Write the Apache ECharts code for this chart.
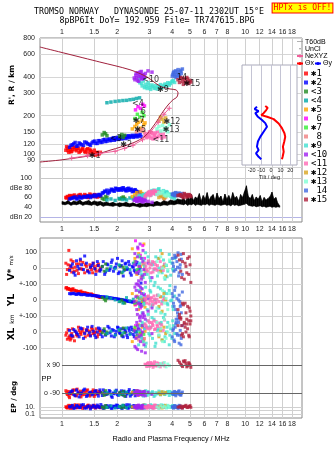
<!DOCTYPE html>
<html><head><meta charset="utf-8">
<script src="https://cdn.jsdelivr.net/npm/echarts@6/dist/echarts.min.js"></script>
<style>html,body{margin:0;padding:0;background:#fff}#c{width:335px;height:451px}</style>
</head><body><div id="c"></div>
<script>
// ---------- axis ticks ----------
const freqTicks = [1,1.5,2,3,4,5,6,7,8,10,12,14,16,18];
const freqTicksMid = [1,1.5,2,3,4,5,6,7,8,9,10,12,14,16,18];
const heightTicks = [80,90,100,120,150,200,300,400,600,800];
const dbTicks = [20,40,60,80,100];
const velTicks = [-500,-400,-300,-200,-100,0,100];
const velTickText = ['-100','0','+-100','0','+-100','0','100'];
const tiltTicks = [-20,-10,0,10,20];
const epTicks = [0.1,10];
const epLines = [0.1,1,10];

// ---------- echo groups: [freq MHz, height km, amp dB, V* m/s, YL km, XL km, PP deg, EP deg] ----------
const echo1 = [[1.05,108,60,30,75,-20,-75,12],[1.07,112,62,-10,68,-45,-100,5],[1.09,104,58,110,72,-35,-110,30],[1.11,110,63,15,65,-50,-85,4],[1.13,106,61,-25,60,-10,-95,20],[1.15,113,64,40,70,-30,-70,8],[1.18,109,60,5,58,5,-105,45],[1.21,111,62,-15,55,-25,-65,6],[1.24,104,65,25,52,10,-90,15],[1.27,108,63,-5,56,-15,-115,25],[1.30,112,61,35,48,20,-80,4],[1.33,106,66,-30,45,-5,-100,12],[1.36,109,64,10,42,15,-75,9],[1.39,103,60,-20,40,-20,-95,35],[1.42,110,67,20,35,5,-110,6],[1.45,105,63,-10,38,25,-85,18],[1.48,101,62,30,30,-10,-70,10],[1.52,99,65,-5,28,0,-100,5],[1.56,104,61,15,22,-30,-90,14],[1.60,102,64,-15,18,10,-80,8],
 [1.06,115,59,-40,78,-5,-90,7],[1.08,107,61,20,70,15,-80,18],[1.10,113,64,-5,66,-25,-120,9],[1.12,105,60,50,62,-40,-95,26],[1.14,109,62,0,68,20,-85,5],[1.17,114,65,-20,61,-55,-72,14],[1.20,107,61,25,57,-15,-108,8],[1.23,112,63,-35,53,30,-92,40],[1.26,106,66,45,50,-5,-78,6],[1.29,110,62,-8,47,5,-102,16],[1.34,104,64,20,44,-30,-88,10],[1.38,111,61,-15,41,10,-70,22],[1.43,107,65,5,36,-20,-98,7],[1.47,102,63,-30,32,15,-82,12],[1.50,108,66,10,29,-5,-112,30],[1.54,103,62,-20,25,20,-76,9],[1.58,100,64,25,20,-15,-94,15],[1.62,104,62,0,15,5,-86,6]];
const echo2 = [[1.12,118,58,10,38,-20,-80,10],[1.16,121,60,-30,42,15,-100,4],[1.20,116,57,45,35,-5,-70,25],[1.24,123,62,-5,40,-30,-115,7],[1.28,119,59,20,33,20,-90,40],[1.33,125,61,75,36,-10,-65,5],[1.38,121,63,-20,30,30,-105,15],[1.43,118,60,5,32,-25,-85,3],[1.48,126,64,30,28,5,-95,30],[1.53,122,62,-40,26,-35,-75,6],[1.58,128,66,15,25,25,-110,12],[1.63,124,63,-10,22,-15,-88,50],[1.68,130,70,40,20,10,-70,4],[1.73,126,72,-25,18,-20,-100,18],[1.78,131,68,20,16,35,-92,8],[1.83,128,74,-5,14,-5,-80,22],[1.88,133,76,50,12,15,-118,5],[1.93,129,73,0,10,-30,-95,14],[1.98,134,78,25,8,5,-72,35],[2.03,131,75,-35,6,25,-105,7],[2.08,136,77,10,4,-10,-88,16],[2.13,132,79,45,2,-25,-98,4],[2.18,137,76,-15,0,20,-78,28],[2.23,133,74,30,-3,0,-112,9],[2.28,138,78,-5,-6,-35,-90,5],[2.33,135,75,20,-8,10,-68,40],[2.39,139,77,-45,-10,30,-100,11],[2.45,136,73,5,-12,-15,-84,20],[2.51,140,76,-25,-15,5,-108,13],[2.57,137,72,35,-18,-20,-76,6],[2.63,141,70,-10,-16,15,-94,17],[2.70,138,68,-94,-20,-5,-86,10],
 [1.10,114,57,-15,40,10,-92,12],[1.14,119,59,25,41,-25,-76,30],[1.18,124,61,-45,37,5,-108,6],[1.22,117,58,10,38,-15,-84,18],[1.26,121,60,55,35,25,-96,8],[1.31,118,62,-10,34,-40,-72,45],[1.36,124,61,30,31,10,-112,5],[1.41,120,63,-30,30,-5,-88,20],[1.46,123,62,15,27,35,-102,9],[1.51,127,65,-5,27,-20,-80,14],[1.56,122,64,40,24,0,-94,35],[1.61,128,66,-20,21,20,-70,7],[1.66,125,69,10,19,-30,-106,16],[1.71,131,73,-40,19,5,-86,6],[1.76,127,75,25,15,-10,-98,25],[1.81,132,71,-15,13,25,-74,10],[1.86,129,77,35,11,-25,-110,4],[1.91,135,74,-20,9,10,-90,18],[1.96,131,79,5,7,-15,-82,8],[2.01,136,76,60,5,30,-100,30],[2.06,133,78,-25,3,-5,-92,12],[2.11,138,75,15,1,20,-76,6],[2.16,134,80,-50,-2,-30,-104,20],[2.21,139,77,25,-4,10,-86,9],[2.26,135,74,-10,-7,-20,-96,45],[2.31,140,79,40,-9,25,-80,5],[2.36,137,76,-30,-11,-10,-110,15],[2.42,141,72,10,-13,15,-90,8],[2.48,138,75,-15,-14,-30,-74,25],[2.54,142,73,20,-17,0,-100,10],[2.60,139,71,-35,-19,20,-88,6],[2.67,143,69,0,-21,-15,-96,14]];
const echo3 = [[1.66,142,58,10,15,-5,-90,10],[1.70,148,56,-20,5,20,-105,5],[1.73,145,62,25,-5,-15,-75,25],[1.76,140,60,-5,10,0,-95,8],[2.07,138,57,15,-10,10,-85,14],[2.12,143,59,-30,0,-20,-100,6],[2.16,136,61,5,-15,25,-80,30],[2.20,141,58,-10,-20,-5,-110,9]];
const echo4 = [[1.76,252,55,-15,20,-10,-88,8],[1.85,255,57,10,10,5,-98,20],[1.95,258,54,-5,0,-20,-78,5],[2.05,260,58,20,-10,15,-102,12],[2.15,262,56,-25,-20,-5,-92,30],[2.25,263,55,5,15,25,-84,6],[2.35,266,59,-10,-5,-15,-96,15],[2.45,268,57,30,5,10,-80,9],[2.55,272,56,-20,-15,0,-90,22],[2.65,275,58,0,10,-25,-100,7]];
const echo5 = [[2.42,158,62,120,40,-60,-85,10],[2.50,165,66,60,-30,20,-95,5],[2.56,172,70,-40,25,-35,-75,25],[2.62,178,64,90,-60,45,-105,8],[2.68,160,72,10,55,-10,-88,15],[2.74,183,68,-60,-10,30,-98,4],[2.80,170,60,150,10,-50,-80,30],[2.84,176,65,-20,-45,5,-92,11]];
const echo6 = [[2.52,222,60,170,-30,40,-90,8],[2.60,235,63,120,20,-20,-100,20],[2.68,228,58,80,-50,10,-80,5],[2.76,245,62,140,0,-40,-95,12],[2.82,238,59,60,35,25,-85,30]];
const echo7 = [[2.50,190,60,40,-20,30,-92,9],[2.58,205,63,-10,15,-25,-82,25],[2.66,195,61,70,-40,0,-100,6],[2.74,212,64,-50,5,40,-88,14],[2.80,200,59,20,-10,-15,-96,40]];
const echo8 = [[2.55,150,62,-30,-5,-35,-86,9],[2.62,155,65,10,-25,-50,-94,20],[2.70,152,60,-60,10,-20,-80,5],[2.76,158,63,25,-35,-60,-102,12],[2.82,149,61,-5,0,-40,-90,30]];
const echo9 = [[2.62,385,60,80,60,-80,-90,10],[2.66,360,64,30,-40,40,-100,5],[2.70,395,62,-20,20,-30,-80,25],[2.74,340,58,60,-80,60,-95,8],[2.78,372,66,-60,40,-60,-110,15],[2.82,330,63,10,-20,20,-85,4],[2.86,350,61,95,80,-90,-75,35],[2.92,325,67,-40,-60,70,-105,7],[2.98,345,70,40,10,-10,-90,12],[3.05,320,65,-80,50,30,-98,45],[3.12,338,72,20,-30,-40,-82,6],[3.18,328,75,-10,90,80,-112,18],[3.25,342,68,70,-70,-70,-88,9],[3.32,322,73,-50,30,10,-96,28],[3.38,335,78,0,-50,-20,-78,5],[3.45,348,70,110,70,50,-102,14],[3.52,330,66,-30,-10,-50,-92,8],[3.58,340,74,50,20,90,-84,30],[3.65,352,69,-70,-90,-30,-100,11],[3.72,338,72,15,40,0,-90,6],[3.78,360,65,-20,-30,60,-80,20],[3.85,345,67,85,60,-80,-106,9],[3.92,355,63,-45,-5,20,-94,15],[3.98,368,60,30,0,-40,-86,7],[4.05,375,62,-15,-60,40,-98,25],[4.12,362,58,60,25,-10,-90,10],
 [2.64,372,62,20,-10,10,-84,12],[2.72,355,60,-40,70,-40,-96,7],[2.80,390,65,45,-30,50,-88,30],[2.88,335,68,-20,20,-70,-102,9],[2.95,360,66,70,-90,30,-80,16],[3.02,330,71,-60,60,-20,-94,6],[3.10,346,74,30,-40,90,-86,22],[3.22,325,70,-90,0,-90,-104,8],[3.35,340,76,60,80,20,-92,13],[3.48,332,72,-15,-80,60,-84,40],[3.62,345,68,20,50,-60,-98,7],[3.75,350,70,-55,-20,30,-88,18],[3.88,358,66,40,90,-20,-80,10],[4.02,370,64,-5,-40,70,-100,25]];
const echo10 = [[2.50,380,55,90,80,-90,-85,8],[2.53,410,58,40,20,-40,-95,20],[2.56,395,52,-30,-60,60,-75,5],[2.59,430,56,130,100,-110,-105,12],[2.62,370,54,-80,-20,20,-90,35],[2.65,420,59,10,50,90,-80,6],[2.68,400,53,-120,-100,-60,-100,15],[2.71,440,57,60,-40,-20,-88,9],[2.74,385,55,-50,70,40,-96,25],[2.77,415,51,110,-80,110,-82,5],[2.80,405,56,-10,30,-80,-92,11],[2.85,425,54,-90,-120,-130,-108,7],[2.95,445,52,30,10,130,-86,18],[3.10,435,50,-60,-50,-10,-98,8],
 [2.48,392,54,20,-10,10,-92,12],[2.54,425,57,-100,60,-100,-84,6],[2.58,375,53,70,-90,40,-100,25],[2.63,405,58,-20,90,-30,-78,8],[2.67,435,55,150,-30,70,-96,15],[2.72,390,52,-70,40,-120,-88,5],[2.76,412,56,40,-110,0,-104,30],[2.82,398,53,-40,0,100,-80,10]];
const echo11 = [[2.84,140,62,30,10,50,95,10],[2.90,135,66,-10,-20,30,80,5],[2.96,145,70,45,25,70,105,25],[3.02,138,64,0,-5,20,88,8],[3.08,148,72,20,15,60,98,15],[3.14,132,68,-25,-30,40,75,4],[3.20,142,74,35,5,15,110,35],[3.26,136,67,-5,-15,65,90,7],[3.32,150,71,15,30,35,85,12],[3.38,139,65,-20,-10,55,100,6],[3.44,146,69,40,20,25,78,20],[3.50,134,63,5,-25,45,92,9],[3.57,143,60,-15,0,10,102,14],[3.63,137,58,25,10,75,84,8],
 [2.87,144,64,10,0,40,92,12],[2.93,137,68,-20,20,20,100,6],[3.00,150,72,25,-25,60,82,20],[3.06,134,66,-30,10,30,106,9],[3.12,146,70,40,-10,50,88,14],[3.18,139,73,-5,25,70,96,5],[3.24,147,68,20,-20,20,84,30],[3.30,135,71,-15,5,45,104,8]];
const echo12 = [[3.38,182,60,60,-40,-30,-90,9],[3.45,195,64,-20,20,10,-100,20],[3.52,188,62,90,-70,-50,-82,5],[3.60,178,58,10,40,30,-95,12],[3.68,192,61,-50,0,-10,-86,30]];
const echo13 = [[3.30,158,66,40,-50,60,92,10],[3.38,165,70,-30,30,-20,82,5],[3.46,152,68,70,-80,20,100,25],[3.54,168,72,0,60,-60,88,8],[3.62,155,65,-60,-20,80,106,15],[3.70,162,63,20,10,-40,78,6],[3.78,150,67,-10,-60,0,96,30],[3.86,170,64,50,40,40,86,9]];
const echo14 = [[4.00,405,66,60,40,-30,-90,10],[4.06,430,68,10,-20,20,-100,5],[4.12,415,64,80,60,-60,-80,25],[4.18,445,70,-10,-60,50,-108,8],[4.24,420,67,40,10,-10,-88,15],[4.30,455,65,95,-100,80,-96,4],[4.36,410,69,-30,30,-70,-76,30],[4.42,440,66,20,-40,10,-102,7],[4.48,425,63,55,-80,-40,-92,12],[4.54,460,68,-40,50,40,-84,6],[4.40,400,66,0,-10,-20,-98,18],[4.20,395,64,70,-120,60,-86,9],
 [4.03,418,67,30,20,10,-94,14],[4.09,440,65,-20,-40,-50,-84,6],[4.15,402,69,65,80,30,-100,20],[4.27,435,66,5,-80,-20,-90,9],[4.33,412,68,-50,0,60,-80,12],[4.46,450,64,85,-30,-80,-104,7]];
const echo15 = [[4.30,380,64,80,-60,40,120,9],[4.45,395,66,-20,-110,80,95,20],[4.55,370,62,40,-20,-10,80,5],[4.65,390,68,-70,-150,60,110,14],[4.75,360,65,10,-80,0,100,30],[4.85,385,63,60,-40,20,85,7],[4.92,355,66,-40,-130,-20,105,12],[5.00,375,64,20,-70,50,90,25],[5.05,365,62,-90,-100,70,75,8],[4.60,350,60,90,-30,-30,115,15],
 [4.38,362,65,50,-90,90,108,11],[4.50,388,63,-60,-160,-20,88,6],[4.70,372,66,30,-20,30,118,18],[4.80,395,61,-30,-120,50,78,9],[4.95,368,65,70,-50,-30,98,14]];

const echoNames = ['✱1','✱2','<3','<4','✱5',' 6','✱7',' 8','✱9','<10','<11','✱12','✱13',' 14','✱15'];
const echoColors = ['#ff0000','#0000ff','#228b22','#00a8a8','#ffa500','#ff00ff','#33ee33','#f08080','#40e0d0','#a020f0','#ff69b4','#daa520','#7fffd4','#4169e1','#b0203c'];
const echoData = [echo1,echo2,echo3,echo4,echo5,echo6,echo7,echo8,echo9,echo10,echo11,echo12,echo13,echo14,echo15];

// ---------- noise band (dB) ----------
const noiseF  = [1.00,1.04,1.08,1.12,1.16,1.20,1.25,1.30,1.35,1.40,1.45,1.50,1.56,1.62,1.68,1.75,1.82,1.90,1.98,2.06,2.15,2.24,2.34,2.44,2.55,2.66,2.78,2.90,3.03,3.16,3.30,3.45,3.60,3.76,3.92,4.09,4.27,
  4.50,4.61,4.73,4.85,4.97,5.09,5.22,5.35,5.48,5.62,5.76,5.90,6.05,6.20,6.36,6.52,6.68,6.85,7.02,7.19,7.37,7.56,7.75,7.94,8.14,8.34,8.55,8.76,8.98,9.21,9.44,9.67,9.91,10.16,10.41,10.67,10.94,11.21,11.49,11.78,12.08,12.38,12.69,13.00,13.33,13.66,14.00,14.35,14.71,15.08,15.45];
const noiseHi = [52,50,54,49,53,51,55,50,52,54,50,53,51,52,49,51,48,50,47,49,48,50,47,49,46,48,47,49,48,50,52,49,54,51,55,53,57,
  55,60,52,63,56,66,54,61,58,68,53,64,57,70,55,62,66,54,69,58,63,52,67,57,64,55,70,59,62,53,66,60,72,84,62,58,66,54,61,57,64,52,60,55,58,62,71,57,60,48,43];
const noiseLo = [46,45,47,44,46,45,47,44,46,45,44,46,43,45,42,44,43,42,44,41,43,42,41,43,42,40,42,41,43,42,44,43,45,44,46,45,47,
  46,45,47,44,46,45,47,44,46,45,44,46,45,47,44,46,45,44,46,45,44,45,46,44,45,43,46,44,45,43,44,45,46,48,44,43,42,43,41,42,43,41,42,40,41,42,40,41,40,41,40];

// ---------- other traces ----------
const modelCurve = [[0.758,681],[1.61,521],[2.35,454],[2.91,399],[3.43,339],[3.89,322],[4.19,317],[4.30,300],[4.24,279],[4.03,265],[3.79,242],[3.51,209],[3.22,173],[2.84,139],[2.44,123],[1.83,108],[1.48,99],[1.0,91],[0.758,87.5]];
const neXYZ = [[1.13,94],[1.38,98],[1.61,102],[1.95,106],[2.2,112],[2.44,118],[2.75,130],[3.05,150],[3.35,178],[3.6,205],[3.85,228]];
const thetaX = [[-5.9,238],[-3.4,230],[-4.9,221],[-7.6,209],[-10,202],[-4,196],[2.8,188],[8,174],[11.4,160],[14,146],[14.8,137],[13.8,126],[12.4,115],[13.2,105],[12.1,96],[11.4,92]];
const thetaY = [[-14.5,235],[-16.9,225],[-12.8,217],[-16.2,209],[-13.5,196],[-9.3,185],[-5.9,175],[-4.1,164],[-7.6,150],[-11.1,137],[-13.5,126],[-14.5,115],[-12.8,108],[-15.5,102],[-12.8,96],[-10,92]];
const tags = [['✱1',1.51,97],['✱2',2.24,118],['<3',1.97,131],['<4',2.6,245],['6',2.78,213],['✱7',2.62,182],['✱5',2.67,154],['✱9',3.56,317],['<10',3.05,380],['<11',3.47,130],['✱12',3.98,179],['✱13',3.94,154],['14',4.52,395],['✱15',5.12,352]];

// ---------- build ----------
const XMIN = 0.7587, XMAX = 20.42;
const lab = {fontSize:7, color:'#222', fontFamily:'Liberation Sans', hideOverlap:false};
function xAx(grid, opts){
  return Object.assign({type:'log', gridIndex:grid, min:XMIN, max:XMAX, logBase:10,
    axisLine:{show:false}, axisTick:{show:false, customValues:freqTicks},
    axisLabel:{show:false, customValues:freqTicks}, splitLine:{show:false}}, opts);
}
const xAxis = [
  xAx(0,{position:'top', axisLabel:Object.assign({show:true, customValues:freqTicks, margin:2}, lab), splitLine:{show:true, lineStyle:{color:'#d0d0d0'}}}),
  xAx(1,{position:'bottom', axisLabel:Object.assign({show:true, customValues:freqTicksMid, margin:4}, lab)}),
  xAx(2,{position:'bottom', axisLabel:Object.assign({show:true, customValues:freqTicks, margin:3}, lab), splitLine:{show:true, lineStyle:{color:'#d0d0d0'}}}),
  xAx(3,{}), xAx(4,{}),
  {type:'value', gridIndex:5, min:-30, max:27, z:6, axisLine:{show:false},
   axisTick:{show:false, customValues:tiltTicks},
   axisLabel:{customValues:tiltTicks, fontSize:5.5, margin:2, color:'#222', fontFamily:'Liberation Sans'},
   splitLine:{show:true, lineStyle:{color:'#c4c4d4'}},
   name:'Tilt / deg', nameLocation:'middle', nameGap:9, nameTextStyle:{fontSize:5.5, color:'#222', fontFamily:'Liberation Sans'}}
];
const yAxis = [
  {type:'log', gridIndex:0, min:30, max:800, axisLine:{show:false},
   axisTick:{show:false, customValues:heightTicks},
   axisLabel:Object.assign({customValues:heightTicks, margin:5}, lab),
   splitLine:{show:true, lineStyle:{color:'#d6d6d6'}}},
  {type:'value', gridIndex:1, min:9.74, max:118.46, axisLine:{show:false},
   axisTick:{show:false, customValues:[20,100]},
   axisLabel:Object.assign({customValues:dbTicks, margin:8, formatter:v=>v===80?'dBe 80':(v===20?'dBn 20':String(v))}, lab),
   splitLine:{show:true, lineStyle:{color:['#b4b4e6','#c8c8c8']}}},
  {type:'value', gridIndex:2, min:-937.5, max:187.5, axisLine:{show:false},
   axisTick:{show:false, customValues:velTicks},
   axisLabel:Object.assign({customValues:velTicks, margin:3, formatter:v=>velTickText[velTicks.indexOf(Math.round(v))]}, lab),
   splitLine:{show:true, lineStyle:{color:'#d6d6d6'}}},
  {type:'value', gridIndex:3, min:-180, max:180, show:false},
  {type:'log', gridIndex:4, min:0.01389, max:138.9, axisLine:{show:false},
   axisTick:{show:false, customValues:epLines},
   axisLabel:Object.assign({customValues:epTicks, margin:5, formatter:v=>v>=5?'10.':'0.1'}, lab),
   splitLine:{show:true, lineStyle:{color:'#d0d0d0'}}},
  {type:'log', gridIndex:5, min:82.9, max:494, show:false}
];

const series = [];
const sq = {type:'scatter', symbol:'rect', symbolSize:3, silent:true, z:3};
echoData.forEach((rows,i)=>{
  const base = Object.assign({}, sq, {name:echoNames[i], itemStyle:{color:echoColors[i]}});
  series.push(Object.assign({}, base, {xAxisIndex:0, yAxisIndex:0, symbolSize:3.5, data:rows.map(r=>[r[0],r[1]])}));
  series.push(Object.assign({}, base, {xAxisIndex:1, yAxisIndex:1, symbolSize:3.5, data:rows.map(r=>[r[0],r[2]])}));
  const v = [];
  rows.forEach(r=>{ v.push([r[0],r[3]]); v.push([r[0],r[4]-200]); v.push([r[0],r[5]-400]); });
  series.push(Object.assign({}, base, {xAxisIndex:2, yAxisIndex:2, data:v}));
  series.push(Object.assign({}, base, {xAxisIndex:3, yAxisIndex:3, data:rows.map(r=>[r[0],r[6]])}));
  series.push(Object.assign({}, base, {xAxisIndex:4, yAxisIndex:4, data:rows.map(r=>[r[0],r[7]])}));
});
// noise band: filled polygons between low and high envelopes
series.push({type:'custom', name:'T60dB', xAxisIndex:1, yAxisIndex:1, silent:true, z:2, itemStyle:{color:'#000'},
  data: noiseF.slice(0,-1).map((f,i)=>[f, noiseLo[i], noiseHi[i], noiseF[i+1], noiseLo[i+1], noiseHi[i+1]]),
  encode:{x:[0,3], y:[1,2,4,5]},
  renderItem:(params, api)=>{
    const a=api.coord([api.value(0),api.value(1)]), b=api.coord([api.value(0),api.value(2)]),
          c=api.coord([api.value(3),api.value(5)]), d=api.coord([api.value(3),api.value(4)]);
    return {type:'polygon', shape:{points:[a,b,c,d]}, style:{fill:'#000', stroke:'#000', lineWidth:0.6}};
  }});
series.push({type:'scatter', name:'UnCl', xAxisIndex:0, yAxisIndex:0, data:[], symbol:'circle', symbolSize:2, itemStyle:{color:'#000'}});
series.push({type:'line', name:'model', xAxisIndex:0, yAxisIndex:0, data:modelCurve, smooth:0.3, symbol:'none', lineStyle:{color:'#a0203c', width:1}, z:4, silent:true});
series.push({type:'line', name:'NeXYZ', xAxisIndex:0, yAxisIndex:0, data:neXYZ, symbol:'path://M4,0h2v4h4v2h-4v4h-2v-4h-4v-2h4Z', symbolSize:5, lineStyle:{color:'#f0609a', width:1}, itemStyle:{color:'#f0609a'}, z:4, silent:true});
series.push({type:'line', name:'Θx', xAxisIndex:5, yAxisIndex:5, data:thetaX, symbol:'none', lineStyle:{color:'#ff0000', width:2}, itemStyle:{color:'#ff0000'}, z:8, silent:true});
series.push({type:'line', name:'Θy', xAxisIndex:5, yAxisIndex:5, data:thetaY, symbol:'none', lineStyle:{color:'#0000ff', width:2}, itemStyle:{color:'#0000ff'}, z:8, silent:true});
series.push({type:'scatter', name:'tags', xAxisIndex:0, yAxisIndex:0, symbolSize:0, silent:true, z:10,
  data:tags.map(t=>({name:t[0], value:[t[1],t[2]]})),
  label:{show:true, position:'inside', formatter:'{b}', fontSize:8, color:'#000', fontFamily:'DejaVu Sans'}});
series.push({type:'scatter', name:'ppLines', xAxisIndex:3, yAxisIndex:3, data:[], silent:true,
  markLine:{silent:true, symbol:'none', animation:false, lineStyle:{color:'#666', width:1, type:'solid'},
    label:{show:true, position:'start', distance:2, fontSize:7, color:'#222', fontFamily:'Liberation Sans', formatter:'{b}'},
    data:[[{name:'x 90', coord:[1,90]},{coord:[XMAX,90]}],[{name:'o -90', coord:[1,-90]},{coord:[XMAX,-90]}]]}});

const T = (x,y,text,font,extra)=>({type:'text', x:x, y:y, silent:true, z:20, style:Object.assign({text:text, font:font, fill:'#000', textAlign:'center', textVerticalAlign:'middle'}, extra||{})});
const graphic = [
  T(149,12,'TROMSO NORWAY   DYNASONDE 25-07-11 2302UT 15°E','8.3px "DejaVu Sans Mono"'),
  T(157,21,'8pBP6It DoY= 192.959 File= TR747615.BPG','8.3px "DejaVu Sans Mono"'),
  T(302.5,8,'HPTx is OFF!','8px "DejaVu Sans Mono"',{fill:'#ff0000', backgroundColor:'#ffff00', borderColor:'#ff0000', borderWidth:1, padding:[1,1,0,1]}),
  Object.assign(T(12,85,"R', R / km",'bold 7.5px "DejaVu Sans"'),{rotation:Math.PI/2}),
  {type:'text', x:12, y:268, rotation:Math.PI/2, silent:true, z:20, style:{text:'{a|V*} {b|m/s}', rich:{a:{font:'bold 9px "DejaVu Sans"', fill:'#000'}, b:{font:'5.5px "DejaVu Sans"', fill:'#000'}}, textAlign:'center', textVerticalAlign:'middle'}},
  Object.assign(T(12,300,'YL','bold 9px "DejaVu Sans"'),{rotation:Math.PI/2}),
  Object.assign(T(12,319,'km','6px "DejaVu Sans"'),{rotation:Math.PI/2}),
  Object.assign(T(12,334,'XL','bold 9px "DejaVu Sans"'),{rotation:Math.PI/2}),
  Object.assign(T(14,397,'EP / deg','bold 7px "DejaVu Sans"'),{rotation:Math.PI/2}),
  T(46.5,379,'PP','7.5px "Liberation Sans"'),
  T(171,439,'Radio and Plasma Frequency / MHz','7.3px "Liberation Sans"')
];

const legend = [
  {data:echoNames, orient:'vertical', left:304, top:69, itemWidth:4, itemHeight:4, itemGap:0, padding:0, icon:'rect', selectedMode:false,
   textStyle:{fontSize:9, fontFamily:'DejaVu Sans Mono', lineHeight:7.7, padding:[0,0,0,-2], color:'#000'}},
  {data:[{name:'T60dB', icon:'path://M0,2h8v1h-8Z', itemStyle:{color:'#999'}},
         {name:'UnCl', icon:'path://M0,0h0.01v0.01h-0.01Z M4,4h2v2h-2Z M9.99,9.99h0.01v0.01h-0.01Z', itemStyle:{color:'#000'}},
         {name:'NeXYZ'}],
   orient:'vertical', left:296, top:38, itemWidth:6, itemHeight:5, itemGap:0, padding:0, selectedMode:false,
   textStyle:{fontSize:7, lineHeight:7.2, padding:[0,0,0,-3], color:'#000', fontFamily:'Liberation Sans'}},
  {data:['Θx','Θy'], orient:'horizontal', left:296, top:60, itemWidth:6, itemHeight:4, itemGap:0, padding:0, selectedMode:false,
   textStyle:{fontSize:7, padding:[0,0,0,-3], color:'#000', fontFamily:'Liberation Sans'}}
];

const chart = echarts.init(document.getElementById('c'), null, {renderer:'canvas'});
chart.setOption({
  animation:false, backgroundColor:'#fff',
  grid:[
    {left:40, top:38, width:262, height:184, show:true, borderColor:'#8a8a8a', borderWidth:1, backgroundColor:'transparent'},
    {left:40, top:169, width:262, height:53, show:false},
    {left:40, top:238, width:262, height:180, show:true, borderColor:'#8a8a8a', borderWidth:1, backgroundColor:'transparent'},
    {left:40, top:351, width:262, height:56, show:false},
    {left:40, top:403, width:262, height:14, show:false},
    {left:242, top:65, width:55, height:100, show:true, z:5, backgroundColor:'#fff', borderColor:'#aab', borderWidth:1}
  ],
  xAxis:xAxis, yAxis:yAxis, series:series, legend:legend, graphic:graphic
});
</script></body></html>
